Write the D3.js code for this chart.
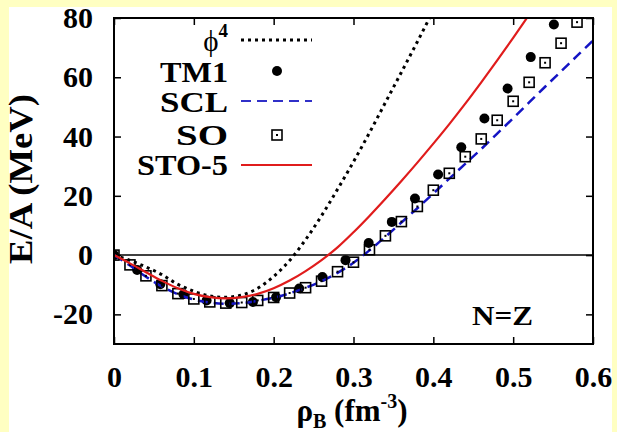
<!DOCTYPE html>
<html>
<head>
    <meta charset="utf-8" />
    <title>E/A vs density</title>
    <script src="https://d3js.org/d3.v7.min.js"></script>
    <style>
        body { margin: 0; background-color: #ffffff; }
        svg { display: block; }
        .tick text, .lbl { font-family: "Liberation Serif", "DejaVu Serif", serif; font-weight: bold; fill: #000; }
    </style>
</head>
<body>
<div id="chart"></div>
<script>
    // densities (fm^-3)
    var rhoLine = [0, 0.02, 0.04, 0.06, 0.08, 0.10, 0.12, 0.14, 0.16, 0.18, 0.20, 0.22, 0.24, 0.26, 0.28, 0.30,
                   0.32, 0.34, 0.36, 0.38, 0.40, 0.42, 0.44, 0.46, 0.48, 0.50, 0.52, 0.54, 0.56, 0.58, 0.60];
    var phi4 = [0, -1.8, -4.0, -6.6, -9.9, -12.2, -13.8, -14.2, -13.5, -11.2, -7.2, -1.8, 5.2, 13.3, 22.2, 31.5,
                41.3, 51.5, 61.7, 72.0, 82.5, 93, 104, 115, 126, 137, 148, 159, 170, 181, 192];
    var scl = [0, -3.5, -7.3, -10.6, -13.2, -15.0, -16.0, -16.4, -16.2, -15.4, -14.4, -12.9, -11.0, -8.8, -6.0, -2.6,
               1.6, 6.2, 11.0, 15.8, 20.8, 25.8, 30.8, 35.8, 41.0, 46.2, 51.5, 56.8, 62.0, 67.2, 72.4];
    var sto5 = [0, -2.8, -5.8, -8.7, -11.2, -13.1, -14.2, -14.6, -14.2, -13.1, -11.2, -8.6, -5.4, -1.7, 2.6, 7.7,
                13.2, 19.0, 25.0, 31.2, 37.6, 44.2, 51.1, 58.3, 65.7, 73.3, 81.1, 89.1, 97.3, 105.7, 114.3];

    var rhoTM1 = [0, 0.029, 0.058, 0.087, 0.116, 0.145, 0.174, 0.203, 0.232, 0.261, 0.29, 0.319, 0.348, 0.377,
                  0.406, 0.435, 0.464, 0.493, 0.522, 0.551];
    var tm1 = [0, -5.0, -9.8, -13.2, -15.3, -16.2, -15.8, -14.2, -11.3, -7.4, -1.7, 4.1, 11.2, 19.1,
               27.2, 36.4, 46.1, 56.2, 66.8, 77.8];

    var rhoSO = [0, 0.02, 0.04, 0.06, 0.08, 0.10, 0.12, 0.14, 0.16, 0.18, 0.20, 0.22, 0.24, 0.26, 0.28, 0.30,
                 0.32, 0.34, 0.36, 0.38, 0.40, 0.42, 0.44, 0.46, 0.48, 0.50, 0.52, 0.54, 0.56, 0.58];
    var so = [0, -3.3, -7.0, -10.3, -13.0, -14.8, -15.8, -16.2, -16.0, -15.3, -14.3, -12.8, -11.0, -8.8, -5.6, -2.4,
              1.8, 6.5, 11.3, 16.4, 21.9, 27.6, 33.2, 39.2, 45.5, 51.9, 58.3, 64.9, 71.5, 78.6];

    var xTicks = [0, 0.1, 0.2, 0.3, 0.4, 0.5, 0.6];
    var yTicks = [-20, 0, 20, 40, 60, 80];

    var W = 617, H = 432;
    var pL = 114, pR = 593, pT = 18, pB = 344;

    var svg = d3.select("#chart").append("svg")
        .attr("width", W)
        .attr("height", H);

    // pale yellow slide border, white page
    svg.append("rect").attr("x", 0).attr("y", 0).attr("width", W).attr("height", H).attr("fill", "#ffffc2");
    svg.append("rect").attr("x", 9).attr("y", 7).attr("width", 603).attr("height", H - 7).attr("fill", "#ffffff");

    var x = d3.scaleLinear().domain([0, 0.6]).range([pL, pR]);
    var y = d3.scaleLinear().domain([-30, 80]).range([pB, pT]);

    svg.append("clipPath").attr("id", "clip")
        .append("rect").attr("x", pL).attr("y", pT).attr("width", pR - pL).attr("height", pB - pT);

    // axes, ticks pointing inward on all four sides
    var fx = function(d) { return d === 0 ? "0" : d3.format(".1f")(d); };
    var gx = svg.append("g").attr("transform", "translate(0," + pB + ")")
        .call(d3.axisBottom(x).tickValues(xTicks).tickFormat(fx).tickSize(-7));
    gx.selectAll("text").attr("dy", null).attr("y", 43).style("font-size", "30px");
    svg.append("g").attr("transform", "translate(0," + pT + ")")
        .call(d3.axisTop(x).tickValues(xTicks).tickFormat("").tickSize(-7));
    var gy = svg.append("g").attr("transform", "translate(" + pL + ",0)")
        .call(d3.axisLeft(y).tickValues(yTicks).tickFormat(function(d) { return String(d); })
            .tickSize(-7).tickPadding(21));
    gy.selectAll("text").style("font-size", "30px");
    svg.append("g").attr("transform", "translate(" + pR + ",0)")
        .call(d3.axisRight(y).tickValues(yTicks).tickFormat("").tickSize(-7));
    svg.selectAll(".domain").remove();
    svg.selectAll(".tick line").attr("stroke", "#000").attr("stroke-width", 1.5);

    // zero line
    svg.append("line").attr("x1", pL).attr("x2", pR).attr("y1", y(0)).attr("y2", y(0))
        .attr("stroke", "#000").attr("stroke-width", 1.5);

    var plot = svg.append("g").attr("clip-path", "url(#clip)");
    var line = d3.line().curve(d3.curveCatmullRom)
        .x(function(d) { return x(d[0]); })
        .y(function(d) { return y(d[1]); });
    function pairs(xs, ys) { return xs.map(function(v, i) { return [v, ys[i]]; }); }

    plot.append("path").attr("d", line(pairs(rhoLine, phi4)))
        .attr("fill", "none").attr("stroke", "#000").attr("stroke-width", 3).attr("stroke-dasharray", "3,4");

    plot.selectAll(".tm1").data(pairs(rhoTM1, tm1)).enter().append("circle")
        .attr("cx", function(d) { return x(d[0]); }).attr("cy", function(d) { return y(d[1]); })
        .attr("r", 5).attr("fill", "#000");

    plot.append("path").attr("d", line(pairs(rhoLine, scl)))
        .attr("fill", "none").attr("stroke", "#1414c4").attr("stroke-width", 2.5).attr("stroke-dasharray", "10,6");

    plot.selectAll(".so").data(pairs(rhoSO, so)).enter().append("g")
        .attr("transform", function(d) { return "translate(" + x(d[0]) + "," + y(d[1]) + ")"; })
        .each(function() {
            var g = d3.select(this);
            g.append("rect").attr("x", -5).attr("y", -5).attr("width", 10).attr("height", 10)
                .attr("fill", "none").attr("stroke", "#000").attr("stroke-width", 1.6);
            g.append("rect").attr("x", -1).attr("y", -1).attr("width", 2).attr("height", 2).attr("fill", "#000");
        });

    plot.append("path").attr("d", line(pairs(rhoLine, sto5)))
        .attr("fill", "none").attr("stroke", "#e01c1c").attr("stroke-width", 2.2);

    // frame
    svg.append("rect").attr("x", pL).attr("y", pT).attr("width", pR - pL).attr("height", pB - pT)
        .attr("fill", "none").attr("stroke", "#000").attr("stroke-width", 2);

    // legend
    var lx = 228, ls0 = 241, ls1 = 312;
    var leg = svg.append("g");
    var t = leg.append("text").attr("class", "lbl").attr("x", lx).attr("y", 51).attr("text-anchor", "end")
        .style("font-size", "29px").style("font-weight", "normal");
    t.append("tspan").text("ϕ");
    t.append("tspan").attr("dy", -14).style("font-size", "19px").style("font-weight", "bold").text("4");
    leg.append("line").attr("x1", ls0).attr("x2", ls1).attr("y1", 40).attr("y2", 40)
        .attr("stroke", "#000").attr("stroke-width", 3).attr("stroke-dasharray", "3,4");

    function legText(label, yy, w) {
        leg.append("text").attr("class", "lbl").attr("x", lx - w).attr("y", yy)
            .attr("textLength", w).attr("lengthAdjust", "spacingAndGlyphs")
            .style("font-size", "30px").text(label);
    }
    legText("TM1", 82, 68);
    leg.append("circle").attr("cx", 277).attr("cy", 71).attr("r", 5).attr("fill", "#000");

    legText("SCL", 112, 68);
    leg.append("line").attr("x1", ls0).attr("x2", ls1).attr("y1", 101).attr("y2", 101)
        .attr("stroke", "#3030c8").attr("stroke-width", 2).attr("stroke-dasharray", "10,6");

    legText("SO", 145, 52);
    leg.append("rect").attr("x", 272).attr("y", 130).attr("width", 10).attr("height", 10)
        .attr("fill", "none").attr("stroke", "#000").attr("stroke-width", 1.6);
    leg.append("rect").attr("x", 276).attr("y", 134).attr("width", 2).attr("height", 2).attr("fill", "#000");

    legText("STO-5", 175, 91);
    leg.append("line").attr("x1", ls0).attr("x2", ls1).attr("y1", 165).attr("y2", 165)
        .attr("stroke", "#e01c1c").attr("stroke-width", 2);

    // N=Z
    svg.append("text").attr("class", "lbl").attr("x", 472).attr("y", 325)
        .attr("textLength", 61).attr("lengthAdjust", "spacingAndGlyphs")
        .style("font-size", "27px").text("N=Z");

    // axis titles
    var xt = svg.append("text").attr("class", "lbl").attr("x", 352).attr("y", 421).attr("text-anchor", "middle")
        .style("font-size", "31px");
    xt.append("tspan").text("ρ");
    xt.append("tspan").attr("dy", 7).style("font-size", "20px").text("B");
    xt.append("tspan").attr("dy", -7).text(" (fm");
    xt.append("tspan").attr("dy", -13).style("font-size", "20px").text("-3");
    xt.append("tspan").attr("dy", 13).text(")");

    svg.append("text").attr("class", "lbl")
        .attr("transform", "translate(32,179) rotate(-90)").attr("text-anchor", "middle")
        .attr("textLength", 170).attr("lengthAdjust", "spacingAndGlyphs")
        .style("font-size", "34px").text("E/A (MeV)");
</script>
</body>
</html>
